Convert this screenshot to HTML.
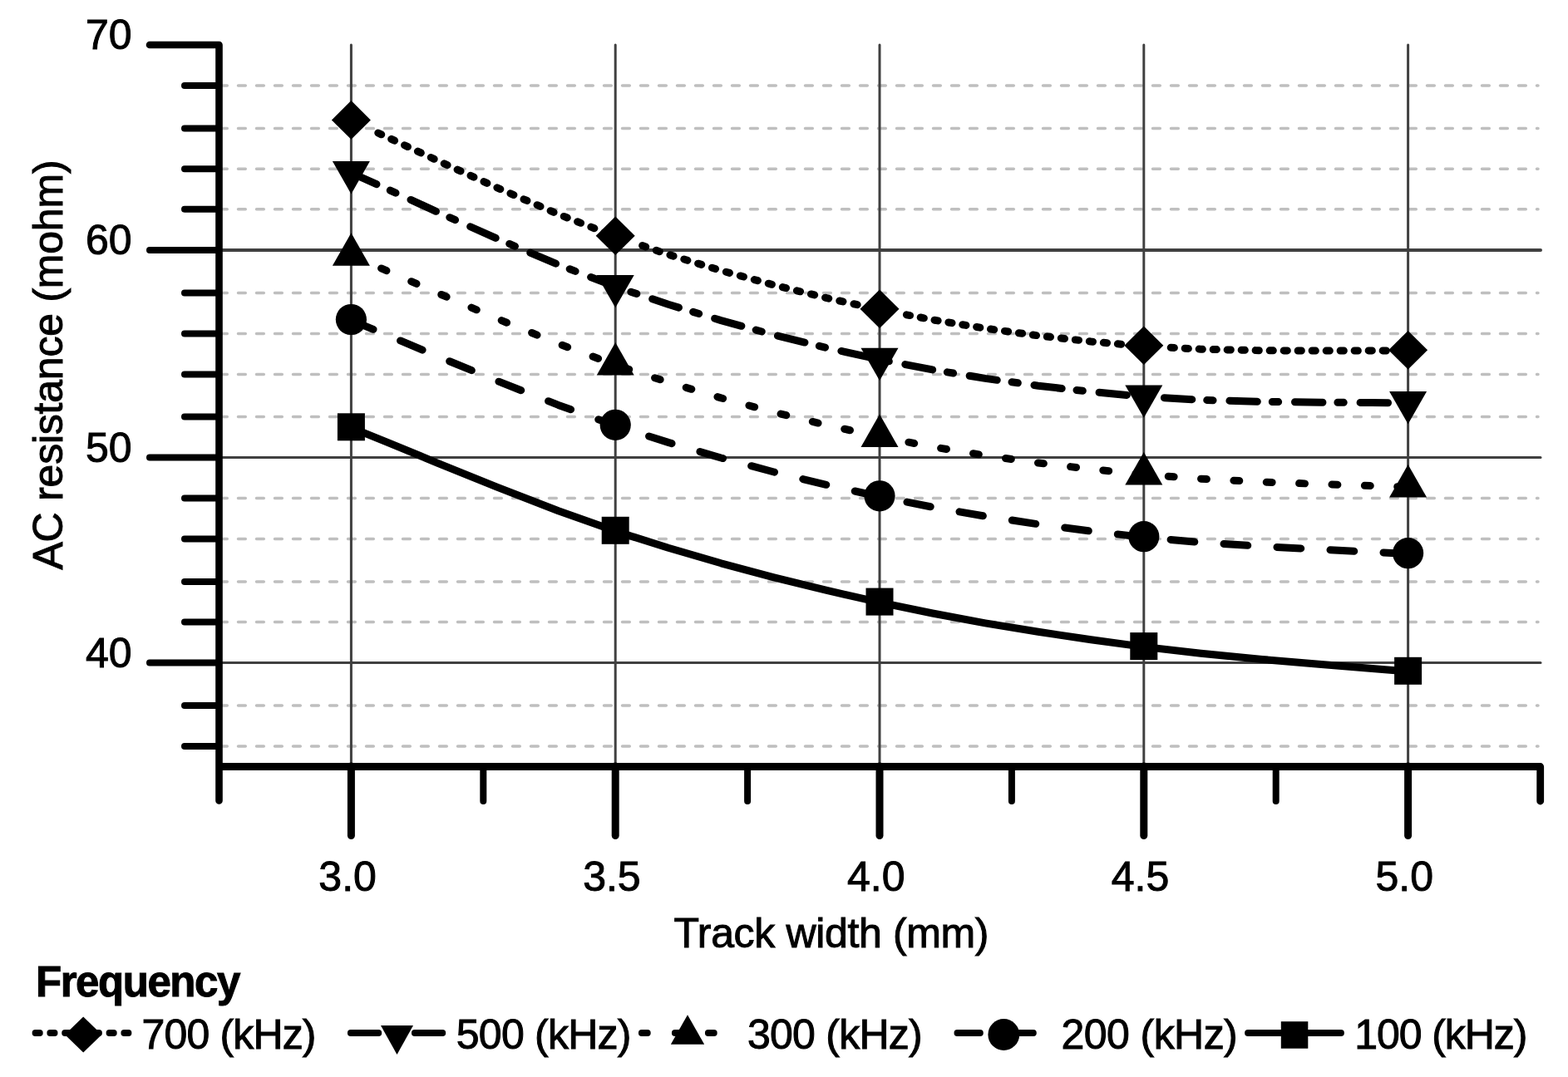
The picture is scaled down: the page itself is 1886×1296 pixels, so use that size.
<!DOCTYPE html>
<html><head><meta charset="utf-8"><title>AC resistance vs track width</title>
<style>
html,body{margin:0;padding:0;background:#fff;width:1886px;height:1296px;overflow:hidden}
svg{display:block}
text{font-family:"Liberation Sans",Arial,sans-serif;fill:#000;stroke:#000;stroke-width:1.0px}
</style></head><body>
<svg width="1886" height="1296" viewBox="0 0 1886 1296">
<rect width="1886" height="1296" fill="#fff"/>
<g stroke="#bfbfbf" stroke-width="3.5" stroke-linecap="round" stroke-dasharray="8.8 13.2" fill="none">
<path d="M264.5,898 H1850"/>
<path d="M264.5,849 H1850"/>
<path d="M264.5,748.5 H1850"/>
<path d="M264.5,700 H1850"/>
<path d="M264.5,648.4 H1850"/>
<path d="M264.5,599.4 H1850"/>
<path d="M264.5,501.4 H1850"/>
<path d="M264.5,450.4 H1850"/>
<path d="M264.5,401.5 H1850"/>
<path d="M264.5,352.5 H1850"/>
<path d="M264.5,251.8 H1850"/>
<path d="M264.5,203.3 H1850"/>
<path d="M264.5,154.4 H1850"/>
<path d="M264.5,103 H1850"/>
</g>
<g stroke="#404040" stroke-width="4" fill="none" stroke-linecap="round">
<path d="M266,301 H1853" stroke-width="4"/>
<path d="M266,550.5 H1853" stroke-width="3"/>
<path d="M266,797.5 H1853" stroke-width="3"/>
</g>
<g stroke="#404040" stroke-width="3" fill="none" stroke-linecap="round">
<path d="M422.4,54 V920"/>
<path d="M740.2,54 V920"/>
<path d="M1058.0,54 V920"/>
<path d="M1375.8,54 V920"/>
<path d="M1693.6,54 V920"/>
</g>
<g stroke="#000" fill="none" stroke-linecap="round" stroke-linejoin="round">
<path d="M180,54 H263.5 V963.5" stroke-width="8.6"/>
<path d="M180,301 H263" stroke-width="8"/>
<path d="M180,550.5 H263" stroke-width="8"/>
<path d="M180,797.5 H263" stroke-width="8"/>
<path d="M222,103 H263" stroke-width="8"/>
<path d="M222,154.4 H263" stroke-width="8"/>
<path d="M222,203.3 H263" stroke-width="8"/>
<path d="M222,251.8 H263" stroke-width="8"/>
<path d="M222,352.5 H263" stroke-width="8"/>
<path d="M222,401.5 H263" stroke-width="8"/>
<path d="M222,450.4 H263" stroke-width="8"/>
<path d="M222,501.4 H263" stroke-width="8"/>
<path d="M222,599.4 H263" stroke-width="8"/>
<path d="M222,648.4 H263" stroke-width="8"/>
<path d="M222,700 H263" stroke-width="8"/>
<path d="M222,748.5 H263" stroke-width="8"/>
<path d="M222,849 H263" stroke-width="8"/>
<path d="M222,898 H263" stroke-width="8"/>
<path d="M267,922.5 H1852.7 V964" stroke-width="8.8"/>
<path d="M422.4,922 V1005.5" stroke-width="9"/>
<path d="M581.3,922 V964" stroke-width="8"/>
<path d="M740.2,922 V1005.5" stroke-width="9"/>
<path d="M899.1,922 V964" stroke-width="8"/>
<path d="M1058.0,922 V1005.5" stroke-width="9"/>
<path d="M1216.9,922 V964" stroke-width="8"/>
<path d="M1375.8,922 V1005.5" stroke-width="9"/>
<path d="M1534.7,922 V964" stroke-width="8"/>
<path d="M1693.6,922 V1005.5" stroke-width="9"/>
</g>
<path d="M454.8,160.0 L465.6,165.0 L526.6,193.4 L597.8,225.8 L671.6,257.8 L740.2,284.6" fill="none" stroke="#000" stroke-width="9" stroke-linecap="round" stroke-linejoin="round" stroke-dasharray="4.3 13.2"/>
<path d="M772.6,295.6 L803.8,306.2 L867.3,325.6 L930.9,343.0 L994.4,358.6 L1058.0,372.6" fill="none" stroke="#000" stroke-width="9" stroke-linecap="round" stroke-linejoin="round" stroke-dasharray="4.3 13.3"/>
<path d="M1090.4,378.8 L1121.6,384.8 L1185.1,395.2 L1248.7,403.9 L1312.2,411.0 L1375.8,416.6" fill="none" stroke="#000" stroke-width="9" stroke-linecap="round" stroke-linejoin="round" stroke-dasharray="4.2 12.9"/>
<path d="M1408.2,418.3 L1444.4,420.2 L1518.2,421.8 L1589.4,422.1 L1650.4,421.9 L1693.6,422.0" fill="none" stroke="#000" stroke-width="9" stroke-linecap="round" stroke-linejoin="round" stroke-dasharray="4.2 12.8"/>
<path d="M422.4,208.0 L465.6,227.4 L526.6,255.3 L597.8,287.1 L671.6,318.5 L740.2,344.9 L803.8,366.3 L867.3,385.6 L930.9,403.0 L994.4,418.6 L1058.0,432.6 L1121.6,444.9 L1185.1,455.4 L1248.7,464.2 L1312.2,471.4 L1375.8,477.3 L1444.4,481.3 L1518.2,483.4 L1589.4,484.2 L1650.4,484.5 L1693.6,484.9" fill="none" stroke="#000" stroke-width="9" stroke-linecap="round" stroke-linejoin="round" stroke-dasharray="33.45 17.95 7.35 19.85"/>
<path d="M422.4,307.3 L465.6,326.0 L526.6,352.7 L597.8,383.4 L671.6,413.6 L740.2,439.1 L803.8,460.0 L867.3,478.9 L930.9,496.1 L994.4,511.6 L1058.0,525.5 L1121.6,537.7 L1185.1,548.1 L1248.7,557.0 L1312.2,564.5 L1375.8,571.0 L1444.4,576.2 L1518.2,580.0 L1589.4,582.6 L1650.4,584.6 L1693.6,586.1" fill="none" stroke="#000" stroke-width="9" stroke-linecap="round" stroke-linejoin="round" stroke-dasharray="6.9 32.5"/>
<path d="M422.4,385.3 L465.6,403.2 L526.6,428.9 L597.8,458.3 L671.6,487.4 L740.2,512.1 L803.8,532.4 L867.3,551.0 L930.9,568.0 L994.4,583.5 L1058.0,597.6 L1121.6,610.2 L1185.1,621.2 L1248.7,630.8 L1312.2,639.2 L1375.8,646.5 L1444.4,652.7 L1518.2,657.5 L1589.4,661.3 L1650.4,664.2 L1693.6,666.5" fill="none" stroke="#000" stroke-width="9" stroke-linecap="round" stroke-linejoin="round" stroke-dasharray="28.8 35.3"/>
<path d="M422.4,514.6 L465.6,532.2 L526.6,557.3 L597.8,586.1 L671.6,614.7 L740.2,639.1 L803.8,659.3 L867.3,677.8 L930.9,694.8 L994.4,710.4 L1058.0,724.9 L1121.6,738.0 L1185.1,749.8 L1248.7,760.3 L1312.2,769.7 L1375.8,778.4 L1444.4,786.3 L1518.2,793.4 L1589.4,799.5 L1650.4,804.4 L1693.6,808.1" fill="none" stroke="#000" stroke-width="9" stroke-linecap="round" stroke-linejoin="round"/>
<g fill="#000">
<path d="M422.4,121.1 L445.9,144.4 L422.4,167.7 L398.9,144.4Z"/>
<path d="M740.2,260.5 L763.7,283.8 L740.2,307.1 L716.7,283.8Z"/>
<path d="M1058.0,348.5 L1081.5,371.8 L1058.0,395.1 L1034.5,371.8Z"/>
<path d="M1375.8,392.5 L1399.3,415.8 L1375.8,439.1 L1352.3,415.8Z"/>
<path d="M1693.6,397.9 L1717.1,421.2 L1693.6,444.5 L1670.1,421.2Z"/>
<path d="M399.9,194.1 L444.9,194.1 L422.4,233.4Z"/>
<path d="M717.7,331.0 L762.7,331.0 L740.2,370.3Z"/>
<path d="M1035.5,418.7 L1080.5,418.7 L1058.0,458.0Z"/>
<path d="M1353.3,463.4 L1398.3,463.4 L1375.8,502.7Z"/>
<path d="M1671.1,471.0 L1716.1,471.0 L1693.6,510.3Z"/>
<path d="M422.4,280.2 L444.9,319.7 L399.9,319.7Z"/>
<path d="M740.2,412.0 L762.7,451.5 L717.7,451.5Z"/>
<path d="M1058.0,498.4 L1080.5,537.9 L1035.5,537.9Z"/>
<path d="M1375.8,543.9 L1398.3,583.4 L1353.3,583.4Z"/>
<path d="M1693.6,559.0 L1716.1,598.5 L1671.1,598.5Z"/>
<circle cx="422.4" cy="384.5" r="18.6"/>
<circle cx="740.2" cy="511.3" r="18.6"/>
<circle cx="1058.0" cy="596.8" r="18.6"/>
<circle cx="1375.8" cy="645.7" r="18.6"/>
<circle cx="1693.6" cy="665.7" r="18.6"/>
<rect x="405.9" y="497.3" width="33" height="33"/>
<rect x="723.7" y="621.8" width="33" height="33"/>
<rect x="1041.5" y="707.6" width="33" height="33"/>
<rect x="1359.3" y="761.1" width="33" height="33"/>
<rect x="1677.1" y="790.8" width="33" height="33"/>
</g>
<g font-size="50">
<text x="158.7" y="59.0" text-anchor="end">70</text>
<text x="158.7" y="306.0" text-anchor="end">60</text>
<text x="158.7" y="555.5" text-anchor="end">50</text>
<text x="158.7" y="802.5" text-anchor="end">40</text>
<text x="418.1" y="1072" text-anchor="middle">3.0</text>
<text x="735.9" y="1072" text-anchor="middle">3.5</text>
<text x="1053.7" y="1072" text-anchor="middle">4.0</text>
<text x="1371.5" y="1072" text-anchor="middle">4.5</text>
<text x="1689.3" y="1072" text-anchor="middle">5.0</text>
<text x="1000" y="1140.3" text-anchor="middle" textLength="379" lengthAdjust="spacing">Track width (mm)</text>
<text transform="translate(75,439) rotate(-90)" text-anchor="middle" textLength="493.1" lengthAdjust="spacing">AC resistance (mohm)</text>
</g>
<text x="43" y="1199" font-size="51" font-weight="bold" textLength="246.3" lengthAdjust="spacing">Frequency</text>
<path d="M42.5,1243 H154.5" stroke="#000" stroke-width="7.8" stroke-linecap="round" fill="none" stroke-dasharray="5.3 12.5"/>
<path d="M421.8,1243 H533.8" stroke="#000" stroke-width="7.8" stroke-linecap="round" fill="none" stroke-dasharray="33.5 18 7.5 18"/>
<path d="M771.8,1243 H883.8" stroke="#000" stroke-width="7.8" stroke-linecap="round" fill="none" stroke-dasharray="7 33"/>
<path d="M1151.4,1243 H1263.4" stroke="#000" stroke-width="7.8" stroke-linecap="round" fill="none" stroke-dasharray="27.5 36.5"/>
<path d="M1501,1243 H1613" stroke="#000" stroke-width="7.8" stroke-linecap="round" fill="none"/>
<g fill="#000">
<path d="M100.2,1223.5 L122.4,1245.0 L100.2,1266.5 L78.0,1245.0Z"/>
<path d="M458.0,1234.0 L497.0,1234.0 L477.5,1269.0Z"/>
<path d="M827.0,1221.2 L847.2,1256.8 L806.8,1256.8Z"/>
<circle cx="1207.3" cy="1245.0" r="18.9"/>
<rect x="1540.8" y="1229.2" width="32.5" height="32.5"/>
</g>
<g font-size="50">
<text x="170.6" y="1261.7" textLength="209.9" lengthAdjust="spacing">700 (kHz)</text>
<text x="548.8" y="1261.7" textLength="210.6" lengthAdjust="spacing">500 (kHz)</text>
<text x="899" y="1261.7" textLength="210.6" lengthAdjust="spacing">300 (kHz)</text>
<text x="1276.6" y="1261.7" textLength="212.1" lengthAdjust="spacing">200 (kHz)</text>
<text x="1629.2" y="1261.7" textLength="208.1" lengthAdjust="spacing">100 (kHz)</text>
</g>
</svg></body></html>
